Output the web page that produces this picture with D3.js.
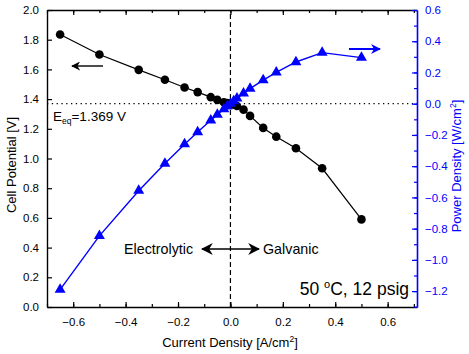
<!DOCTYPE html>
<html>
<head>
<meta charset="utf-8">
<script src="https://cdn.jsdelivr.net/npm/d3@7"></script>
<style>
  body { margin: 0; background: #fff; }
  svg { font-family: "Liberation Sans", Arial, sans-serif; }
</style>
</head>
<body>
<div id="chart"></div>
<script>
// current density [A/cm2]
const current = [-0.65, -0.5, -0.35, -0.25, -0.175, -0.125, -0.075, -0.05, -0.025, -0.0125, 0, 0.0125, 0.025, 0.05, 0.075, 0.125, 0.175, 0.25, 0.35, 0.5];
// cell potential [V]
const potential = [1.835, 1.70, 1.597, 1.53, 1.478, 1.447, 1.413, 1.395, 1.379, 1.373, 1.369, 1.362, 1.354, 1.329, 1.287, 1.206, 1.147, 1.069, 0.934, 0.59];
// power density [W/cm2]
const power = [-1.19, -0.846, -0.557, -0.383, -0.259, -0.181, -0.106, -0.07, -0.034, -0.017, 0, 0.017, 0.034, 0.066, 0.097, 0.151, 0.201, 0.267, 0.327, 0.295];

const xTicks = [-0.6, -0.4, -0.2, 0.0, 0.2, 0.4, 0.6];
const yTicks = [0.0, 0.2, 0.4, 0.6, 0.8, 1.0, 1.2, 1.4, 1.6, 1.8, 2.0];
const pTicks = [-1.2, -1.0, -0.8, -0.6, -0.4, -0.2, 0.0, 0.2, 0.4, 0.6];
const Eeq = 1.369;

const width = 469, height = 354;
const margin = { top: 10, right: 52, bottom: 47, left: 47 };
const blue = "#0000ff";

const svg = d3.select("#chart").append("svg")
  .attr("width", width).attr("height", height);

const x = d3.scaleLinear().domain([-0.7, 0.712]).range([margin.left, width - margin.right]);
const y = d3.scaleLinear().domain([0, 2.0]).range([height - margin.bottom, margin.top]);
// power axis aligned so that 0 W sits on E_eq
const pMin = -0.6 * Eeq / (2.0 - Eeq);
const yp = d3.scaleLinear().domain([pMin, 0.6]).range([height - margin.bottom, margin.top]);

const x0 = margin.left, x1 = width - margin.right;
const y0 = height - margin.bottom, y1 = margin.top;

const fmt = d3.format(".1f");
const minorX = d3.range(-0.7, 0.71, 0.1).map(v => +v.toFixed(2));
const minorP = d3.range(-1.3, 0.61, 0.1).map(v => +v.toFixed(2)).filter(v => v >= pMin);

// reference lines
svg.append("line")
  .attr("x1", x0).attr("x2", x1).attr("y1", y(Eeq)).attr("y2", y(Eeq))
  .attr("stroke", "#000").attr("stroke-width", 1.3).attr("stroke-dasharray", "1.3,3.5");
svg.append("line")
  .attr("x1", x(0)).attr("x2", x(0)).attr("y1", y0).attr("y2", y1)
  .attr("stroke", "#000").attr("stroke-width", 1.2).attr("stroke-dasharray", "5,3");

// bottom axis
svg.append("g").attr("transform", `translate(0,${y0})`)
  .call(d3.axisBottom(x).tickValues(xTicks).tickFormat(fmt).tickSizeInner(-5).tickSizeOuter(0).tickPadding(11));
svg.append("g").attr("transform", `translate(0,${y0})`)
  .call(d3.axisBottom(x).tickValues(minorX).tickFormat("").tickSizeInner(-3).tickSizeOuter(0))
  .select(".domain").remove();

// top axis
svg.append("g").attr("transform", `translate(0,${y1})`)
  .call(d3.axisTop(x).tickValues(xTicks).tickFormat("").tickSizeInner(-5).tickSizeOuter(0));
svg.append("g").attr("transform", `translate(0,${y1})`)
  .call(d3.axisTop(x).tickValues(minorX).tickFormat("").tickSizeInner(-3).tickSizeOuter(0))
  .select(".domain").remove();

// left axis
svg.append("g").attr("transform", `translate(${x0},0)`)
  .call(d3.axisLeft(y).tickValues(yTicks).tickFormat(fmt).tickSizeInner(-5).tickSizeOuter(0).tickPadding(8));

// right axis (blue)
const right = svg.append("g").attr("transform", `translate(${x1},0)`)
  .call(d3.axisRight(yp).tickValues(pTicks).tickFormat(fmt).tickSizeInner(-5).tickSizeOuter(0).tickPadding(8));
const rightMinor = svg.append("g").attr("transform", `translate(${x1},0)`)
  .call(d3.axisRight(yp).tickValues(minorP).tickFormat("").tickSizeInner(-3).tickSizeOuter(0));
rightMinor.select(".domain").remove();
[right, rightMinor].forEach(g => {
  g.selectAll("line,path").attr("stroke", blue);
  g.selectAll("text").attr("fill", blue);
});

svg.selectAll(".tick text").attr("font-size", 11.5).attr("font-family", "Liberation Sans, Arial, sans-serif");
svg.selectAll(".domain").attr("stroke-width", 1.4);
right.select(".domain").attr("stroke-width", 1.6);
svg.selectAll(".tick line").attr("stroke-width", 1.2);

// cell potential series
const pts = current.map((c, i) => ({ c, v: potential[i], p: power[i] }));
svg.append("path").datum(pts)
  .attr("fill", "none").attr("stroke", "#000").attr("stroke-width", 1.2)
  .attr("d", d3.line().x(d => x(d.c)).y(d => y(d.v)));
svg.selectAll("circle.v").data(pts).join("circle")
  .attr("class", "v").attr("cx", d => x(d.c)).attr("cy", d => y(d.v)).attr("r", 4.3).attr("fill", "#000");

// power density series
svg.append("path").datum(pts)
  .attr("fill", "none").attr("stroke", blue).attr("stroke-width", 1.4)
  .attr("d", d3.line().x(d => x(d.c)).y(d => yp(d.p)));
svg.selectAll("path.p").data(pts).join("path")
  .attr("class", "p")
  .attr("transform", d => `translate(${x(d.c)},${yp(d.p)})`)
  .attr("d", d3.symbol(d3.symbolTriangle, 52))
  .attr("fill", blue);

// arrows
const defs = svg.append("defs");
function head(id, color, size) {
  defs.append("marker").attr("id", id).attr("viewBox", "0 0 10 10")
    .attr("refX", 9).attr("refY", 5).attr("markerWidth", size).attr("markerHeight", size)
    .attr("markerUnits", "userSpaceOnUse").attr("orient", "auto-start-reverse")
    .append("path").attr("d", "M0,0 L10,5 L0,10 L3,5 Z").attr("fill", color);
}
head("hk", "#000", 9);
head("hb", blue, 10);
head("hk2", "#000", 12);

svg.append("line").attr("x1", 103).attr("x2", 72).attr("y1", 66).attr("y2", 66)
  .attr("stroke", "#000").attr("stroke-width", 1.4).attr("marker-end", "url(#hk)");
svg.append("line").attr("x1", 349).attr("x2", 380).attr("y1", 49).attr("y2", 49)
  .attr("stroke", blue).attr("stroke-width", 2).attr("marker-end", "url(#hb)");
svg.append("line").attr("x1", 202).attr("x2", 259).attr("y1", 249).attr("y2", 249)
  .attr("stroke", "#000").attr("stroke-width", 1.6)
  .attr("marker-start", "url(#hk2)").attr("marker-end", "url(#hk2)");

// annotations
const eq = svg.append("text").attr("x", 53).attr("y", 121).attr("font-size", 13.5).attr("fill", "#000");
eq.append("tspan").text("E");
eq.append("tspan").attr("font-size", 8.5).attr("dy", 3).text("eq");
eq.append("tspan").attr("dy", -3).text("=1.369 V");

svg.append("text").attr("x", 124).attr("y", 254).attr("font-size", 14.3).text("Electrolytic");
svg.append("text").attr("x", 263).attr("y", 254).attr("font-size", 14.3).text("Galvanic");

const cond = svg.append("text").attr("x", 409).attr("y", 295).attr("text-anchor", "end").attr("font-size", 17.5);
cond.append("tspan").text("50 ");
cond.append("tspan").attr("font-size", 11).attr("dy", -7).text("o");
cond.append("tspan").attr("dy", 7).text("C, 12 psig");

// axis titles
const xt = svg.append("text").attr("x", (x0 + x1) / 2 - 2).attr("y", 347).attr("text-anchor", "middle").attr("font-size", 13);
xt.append("tspan").text("Current Density [A/cm");
xt.append("tspan").attr("font-size", 8.5).attr("dy", -5).text("2");
xt.append("tspan").attr("dy", 5).text("]");

svg.append("text")
  .attr("transform", `translate(16,165) rotate(-90)`)
  .attr("text-anchor", "middle").attr("font-size", 13).text("Cell Potential [V]");

const pt = svg.append("text")
  .attr("transform", `translate(461,166) rotate(-90)`)
  .attr("text-anchor", "middle").attr("font-size", 13).attr("fill", blue);
pt.append("tspan").text("Power Density [W/cm");
pt.append("tspan").attr("font-size", 8.5).attr("dy", -5).text("2");
pt.append("tspan").attr("dy", 5).text("]");
</script>
</body>
</html>
